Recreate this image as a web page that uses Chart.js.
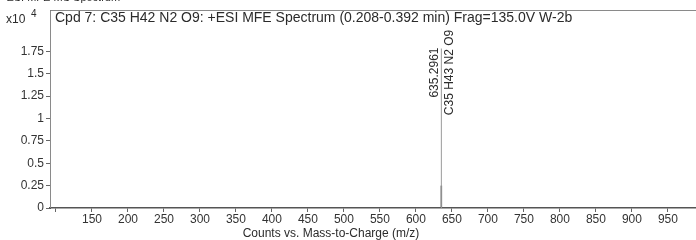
<!DOCTYPE html>
<html>
<head>
<meta charset="utf-8">
<script src="https://cdn.jsdelivr.net/npm/chart.js@4.4.1/dist/chart.umd.min.js"></script>
<style>
  html, body { margin: 0; padding: 0; background: #fff; }
  #wrap { width: 696px; height: 240px; position: relative; }
</style>
</head>
<body>
<div id="wrap"><canvas id="spec"></canvas></div>
<script>
// spectrum data (m/z, counts x10^4)
const peakMz = [635.2961];
const peakCounts = [1.78];
const peakBaseCounts = [0.25];
const peakLabels = ['635.2961'];
const peakFormulas = ['C35 H43 N2 O9'];
const xTicks = [100, 150, 200, 250, 300, 350, 400, 450, 500, 550, 600, 650, 700, 750, 800, 850, 900, 950];
const yTicks = [0, 0.25, 0.5, 0.75, 1, 1.25, 1.5, 1.75];

const titleText = 'Cpd 7: C35 H42 N2 O9: +ESI MFE Spectrum (0.208-0.392 min) Frag=135.0V W-2b';
const xTitle = 'Counts vs. Mass-to-Charge (m/z)';

const font = '"Liberation Sans", Arial, sans-serif';

// build spike segments from the arrays
const spikeData = [];
peakMz.forEach((mz, i) => {
    spikeData.push({ x: mz, y: 0 }, { x: mz, y: peakCounts[i] }, { x: mz, y: null });
});
const baseData = [];
peakMz.forEach((mz, i) => {
    baseData.push({ x: mz, y: 0 }, { x: mz, y: peakBaseCounts[i] }, { x: mz, y: null });
});

// extra text: header, exponent, peak labels, frame
const decor = {
    id: 'decor',
    afterDraw(chart) {
        const { ctx, chartArea: a, scales: { x, y } } = chart;
        ctx.save();
        // frame top + left
        ctx.strokeStyle = '#8a8a8a';
        ctx.lineWidth = 1;
        ctx.beginPath();
        ctx.moveTo(a.left + 0.5, a.bottom);
        ctx.lineTo(a.left + 0.5, a.top + 0.5);
        ctx.lineTo(a.right, a.top + 0.5);
        ctx.stroke();

        ctx.fillStyle = '#2b2b2b';
        ctx.font = '11px ' + font;
        ctx.textBaseline = 'alphabetic';
        ctx.fillText('+ESI MFE MS Spectrum', 0, 1);

        ctx.font = '14px ' + font;
        ctx.fillText(titleText, a.left + 5, a.top + 12);

        ctx.font = '12px ' + font;
        ctx.fillText('x10', 6, a.top + 13);
        ctx.font = '10px ' + font;
        ctx.fillText('4', 31, a.top + 7);

        // x axis title
        ctx.font = '12px ' + font;
        ctx.textAlign = 'center';
        ctx.fillText(xTitle, 331, 237);

        // rotated peak labels
        ctx.font = '12px ' + font;
        peakMz.forEach((mz, i) => {
            const px = x.getPixelForValue(mz);
            const cy = y.getPixelForValue(peakCounts[i]) + 24;
            ctx.save();
            ctx.translate(px - 3, cy);
            ctx.rotate(-Math.PI / 2);
            ctx.textAlign = 'center';
            ctx.fillText(peakLabels[i], 0, 0);
            ctx.restore();
            ctx.save();
            ctx.translate(px + 2, cy);
            ctx.rotate(-Math.PI / 2);
            ctx.textAlign = 'center';
            ctx.textBaseline = 'top';
            ctx.fillText(peakFormulas[i], 0, 0);
            ctx.restore();
        });
        ctx.restore();
    }
};

new Chart(document.getElementById('spec'), {
    type: 'scatter',
    data: {
        datasets: [{
            data: spikeData,
            showLine: true,
            spanGaps: false,
            borderColor: '#9a9a9a',
            borderWidth: 1,
            pointRadius: 0
        }, {
            data: baseData,
            showLine: true,
            spanGaps: false,
            borderColor: '#555',
            borderWidth: 1.5,
            pointRadius: 0
        }]
    },
    options: {
        responsive: true,
        maintainAspectRatio: false,
        animation: false,
        layout: { padding: { top: 10, right: 0, left: 0, bottom: 0 } },
        plugins: { legend: { display: false }, tooltip: { enabled: false } },
        scales: {
            x: {
                type: 'linear',
                min: 91.7,
                max: 989,
                afterBuildTicks: (s) => { s.ticks = xTicks.map(v => ({ value: v })); },
                afterFit: (s) => { s.height = 32; },
                grid: { drawOnChartArea: false, drawTicks: true, tickLength: 4, color: '#666', offset: false },
                border: { color: '#555', width: 1.5 },
                ticks: {
                    color: '#333',
                    font: { family: font, size: 12 },
                    padding: 0,
                    maxRotation: 0,
                    autoSkip: false,
                    callback: (v) => v === 100 ? '' : String(v)
                }
            },
            y: {
                min: 0,
                max: 2.21,
                afterBuildTicks: (s) => { s.ticks = yTicks.map(v => ({ value: v })); },
                afterFit: (s) => { s.width = 50; },
                grid: { drawOnChartArea: false, drawTicks: true, tickLength: 4, color: '#666' },
                border: { color: '#555', width: 1 },
                ticks: {
                    color: '#333',
                    font: { family: font, size: 12 },
                    padding: 2,
                    callback: (v) => String(v)
                }
            }
        }
    },
    plugins: [decor]
});
</script>
</body>
</html>
